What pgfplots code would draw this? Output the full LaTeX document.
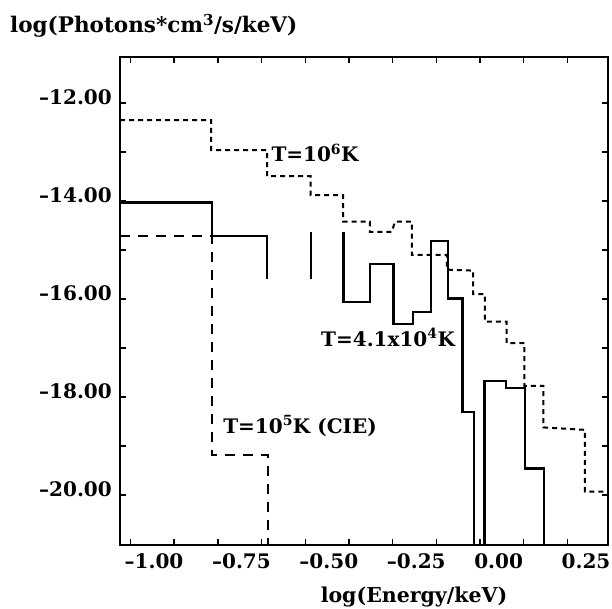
\documentclass[border=0pt]{standalone}
\usepackage{fontspec}
\setmainfont{DejaVu Serif}
\usepackage{pgfplots}
\pgfplotsset{compat=1.18}
\begin{document}
\begin{tikzpicture}
\path[use as bounding box] (0,0) rectangle (612pt,608pt);
\begin{axis}[
  at={(120pt,63pt)}, anchor=south west,
  scale only axis, width=488pt, height=488pt,
  xmin=-1.03, xmax=0.366, ymin=-21.02, ymax=-11.06,
  axis line style={line width=2.6pt},
  tick style={line width=1.4pt, black},
  major tick length=6pt, minor tick length=6pt,
  tick align=inside,
  xtick={-1,-0.75,-0.5,-0.25,0,0.25},
  xticklabels={–1.00,–0.75,–0.50,–0.25,0.00,0.25},
  minor x tick num=1,
  ytick={-20,-18,-16,-14,-12},
  yticklabels={–20.00,–18.00,–16.00,–14.00,–12.00},
  minor y tick num=1,
  xticklabel style={font=\bfseries\fontsize{20}{22}\selectfont, anchor=north west, inner sep=0pt, xshift=-6pt, yshift=-8pt},
  yticklabel style={font=\bfseries\fontsize{20}{22}\selectfont, anchor=east, inner sep=0pt, xshift=-8pt, yshift=6pt},
  clip=true,
]
% T = 1e6 K
\addplot[black, line width=2pt, dash pattern=on 5pt off 4pt] coordinates {
(-1.03,-12.35) (-0.769,-12.35) (-0.769,-12.96) (-0.609,-12.96) (-0.609,-13.49)
(-0.485,-13.49) (-0.485,-13.88) (-0.392,-13.88) (-0.392,-14.42) (-0.315,-14.42)
(-0.315,-14.63) (-0.253,-14.63) (-0.243,-14.42) (-0.195,-14.42) (-0.195,-15.10)
(-0.095,-15.10) (-0.095,-15.40) (-0.020,-15.42) (-0.020,-15.90) (0.014,-15.90)
(0.014,-16.46) (0.076,-16.46) (0.076,-16.90) (0.127,-16.90) (0.127,-17.77)
(0.181,-17.77) (0.181,-18.62) (0.300,-18.67) (0.300,-19.93) (0.366,-19.93)
};
% T = 1e5 K (CIE)
\addplot[black, line width=1.6pt, dash pattern=on 10pt off 8pt] coordinates {
(-1.03,-14.71) (-0.767,-14.71) (-0.767,-19.18) (-0.606,-19.18) (-0.606,-22)
};
% T = 4.1e4 K
\addplot[black, line width=2.3pt] coordinates {
(-1.03,-14.03) (-0.767,-14.03) (-0.767,-14.71) (-0.609,-14.71) (-0.609,-15.60)
};
\addplot[black, line width=2.3pt] coordinates {
(-0.483,-15.60) (-0.483,-14.63)
};
\addplot[black, line width=2.3pt] coordinates {
(-0.391,-14.63) (-0.391,-16.06) (-0.315,-16.06) (-0.315,-15.29) (-0.248,-15.29)
(-0.248,-16.51) (-0.191,-16.51) (-0.191,-16.26) (-0.141,-16.26) (-0.141,-14.82)
(-0.092,-14.82) (-0.092,-15.99) (-0.050,-15.99) (-0.050,-18.30) (-0.017,-18.30)
(-0.017,-22)
};
\addplot[black, line width=2.3pt] coordinates {
(0.013,-22) (0.013,-17.67) (0.074,-17.67) (0.074,-17.82) (0.129,-17.82)
(0.129,-19.46) (0.183,-19.46) (0.183,-22)
};
\node[font=\bfseries\fontsize{20}{22}\selectfont, inner sep=0pt] at (axis cs:-0.472,-13.02) {T=10\textsuperscript{6}K};
\node[font=\bfseries\fontsize{20}{22}\selectfont, inner sep=0pt] at (axis cs:-0.263,-16.78) {T=4.1x10\textsuperscript{4}K};
\node[font=\bfseries\fontsize{20}{22}\selectfont, inner sep=0pt] at (axis cs:-0.515,-18.59) {T=10\textsuperscript{5}K (CIE)};
\end{axis}
\node[font=\bfseries\fontsize{21.5}{24}\selectfont, anchor=base west, inner sep=0pt] at (10pt,575pt) {log(Photons*cm\textsuperscript{3}/s/keV)};
\node[font=\bfseries\fontsize{20.5}{23}\selectfont, anchor=base, inner sep=0pt] at (414pt,6pt) {log(Energy/keV)};
\end{tikzpicture}
\end{document}
